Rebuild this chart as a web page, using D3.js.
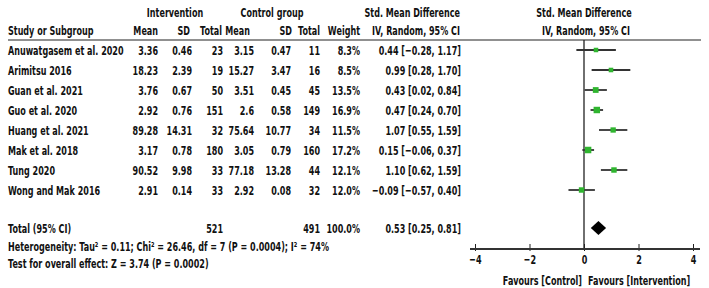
<!DOCTYPE html>
<html>
<head>
<meta charset="utf-8">
<script src="https://cdn.jsdelivr.net/npm/d3@7"></script>
<style>
  body { margin: 0; background: #fff; }
  svg text { font-family: "DejaVu Sans", sans-serif; font-size: 13px; font-weight: bold; fill: #111; }
</style>
</head>
<body>
<div id="my_dataviz"></div>
<script>
// data
const studies = ["Anuwatgasem et al. 2020", "Arimitsu 2016", "Guan et al. 2021", "Guo et al. 2020",
  "Huang et al. 2021", "Mak et al. 2018", "Tung 2020", "Wong and Mak 2016"];
const intMean = [3.36, 18.23, 3.76, 2.92, 89.28, 3.17, 90.52, 2.91];
const intSD = [0.46, 2.39, 0.67, 0.76, 14.31, 0.78, 9.98, 0.14];
const intTotal = [23, 19, 50, 151, 32, 180, 33, 33];
const ctrlMean = [3.15, 15.27, 3.51, 2.6, 75.64, 3.05, 77.18, 2.92];
const ctrlSD = [0.47, 3.47, 0.45, 0.58, 10.77, 0.79, 13.28, 0.08];
const ctrlTotal = [11, 16, 45, 149, 34, 160, 44, 32];
const weights = [8.3, 8.5, 13.5, 16.9, 11.5, 17.2, 12.1, 12.0];
const smd = [0.44, 0.99, 0.43, 0.47, 1.07, 0.15, 1.10, -0.09];
const ciLow = [-0.28, 0.28, 0.02, 0.24, 0.55, -0.06, 0.62, -0.57];
const ciHigh = [1.17, 1.70, 0.84, 0.70, 1.59, 0.37, 1.59, 0.40];
const pooled = { smd: 0.53, lo: 0.25, hi: 0.81, intN: 521, ctrlN: 491, weight: 100.0 };
const axisTicks = [-4, -2, 0, 2, 4];
const heterogeneity = "Heterogeneity: Tau² = 0.11; Chi² = 26.46, df = 7 (P = 0.0004); I² = 74%";
const overallTest = "Test for overall effect: Z = 3.74 (P = 0.0002)";

const width = 709, height = 288;
const squeeze = 0.62; // the original text is strongly condensed horizontally

const svg = d3.select("#my_dataviz")
  .append("svg")
  .attr("width", width)
  .attr("height", height);

const data = studies.map((s, i) => ({
  study: s, im: intMean[i], isd: intSD[i], it: intTotal[i],
  cm: ctrlMean[i], csd: ctrlSD[i], ct: ctrlTotal[i],
  w: weights[i], smd: smd[i], lo: ciLow[i], hi: ciHigh[i]
}));

// row positions
const y = d3.scalePoint().domain(d3.range(studies.length)).range([50, 190]);
const yTotal = 228;

// forest x scale
const x = d3.scaleLinear().domain([-4, 4]).range([475, 693]);
const size = d3.scaleSqrt().domain([0, 17.2]).range([0, 6.5]);

const f2 = (v) => (v < 0 ? "\u2212" : "") + Math.abs(v).toFixed(2);
const ciText = (m, l, h) => `${f2(m)} [${f2(l)}, ${f2(h)}]`;

// columns: right edge and accessor
const cols = [
  { x: 158, get: (d) => String(d.im) },
  { x: 192, get: (d) => d.isd.toFixed(2) },
  { x: 223, get: (d) => d.it },
  { x: 254, get: (d) => String(d.cm) },
  { x: 291, get: (d) => d.csd.toFixed(2) },
  { x: 320, get: (d) => d.ct },
  { x: 360, get: (d) => d.w.toFixed(1) + "%" },
  { x: 461, get: (d) => ciText(d.smd, d.lo, d.hi) }
];

// 1. headers
const header = [
  { t: "Intervention", x: 175, y: 12, a: "middle" },
  { t: "Control group", x: 272, y: 12, a: "middle" },
  { t: "Std. Mean Difference", x: 460, y: 12, a: "end" },
  { t: "Std. Mean Difference", x: 584, y: 12, a: "middle" },
  { t: "Study or Subgroup", x: 8, y: 30, a: "start" },
  { t: "Mean", x: 158, y: 30, a: "end" },
  { t: "SD", x: 190, y: 30, a: "end" },
  { t: "Total", x: 222, y: 30, a: "end" },
  { t: "Mean", x: 250, y: 30, a: "end" },
  { t: "SD", x: 292, y: 30, a: "end" },
  { t: "Total", x: 320, y: 30, a: "end" },
  { t: "Weight", x: 360, y: 30, a: "end" },
  { t: "IV, Random, 95% CI", x: 460, y: 30, a: "end" },
  { t: "IV, Random, 95% CI", x: 586, y: 30, a: "middle" }
];
svg.selectAll(".hdr")
  .data(header)
  .enter()
  .append("text")
  .attr("x", (d) => d.x)
  .attr("y", (d) => d.y)
  .attr("dy", "0.35em")
  .attr("text-anchor", (d) => d.a)
  .text((d) => d.t);

svg.append("line")
  .attr("x1", 8).attr("x2", 701)
  .attr("y1", 40).attr("y2", 40)
  .attr("stroke", "#222").attr("stroke-width", 1.2);

// 2. study rows
const rows = svg.selectAll(".row")
  .data(data)
  .enter()
  .append("g")
  .attr("transform", (d, i) => `translate(0, ${y(i)})`);

rows.append("text")
  .attr("x", 8)
  .attr("dy", "0.35em")
  .text((d) => d.study);

cols.forEach((c) => {
  rows.append("text")
    .attr("x", c.x)
    .attr("dy", "0.35em")
    .attr("text-anchor", "end")
    .text(c.get);
});

// 3. total row
const totalVals = [
  { x: 8, t: "Total (95% CI)", a: "start" },
  { x: 223, t: pooled.intN, a: "end" },
  { x: 320, t: pooled.ctrlN, a: "end" },
  { x: 360, t: pooled.weight.toFixed(1) + "%", a: "end" },
  { x: 461, t: ciText(pooled.smd, pooled.lo, pooled.hi), a: "end" }
];
svg.selectAll(".tot")
  .data(totalVals)
  .enter()
  .append("text")
  .attr("x", (d) => d.x)
  .attr("y", yTotal)
  .attr("dy", "0.35em")
  .attr("text-anchor", (d) => d.a)
  .text((d) => d.t);

svg.append("text").attr("x", 8).attr("y", 246).attr("dy", "0.35em").text(heterogeneity);
svg.append("text").attr("x", 8).attr("y", 263).attr("dy", "0.35em").text(overallTest);

// 4. forest panel
const axisY = 249;

svg.append("line")
  .attr("x1", x(0)).attr("x2", x(0))
  .attr("y1", 40).attr("y2", axisY)
  .attr("stroke", "#222").attr("stroke-width", 1.3);

svg.selectAll(".ci")
  .data(data)
  .enter()
  .append("line")
  .attr("x1", (d) => x(d.lo))
  .attr("x2", (d) => x(d.hi))
  .attr("y1", (d, i) => y(i))
  .attr("y2", (d, i) => y(i))
  .attr("stroke", "#333")
  .attr("stroke-width", 1.8);

svg.selectAll(".sq")
  .data(data)
  .enter()
  .append("rect")
  .attr("x", (d) => x(d.smd) - size(d.w) / 2)
  .attr("y", (d, i) => y(i) - size(d.w) / 2)
  .attr("width", (d) => size(d.w))
  .attr("height", (d) => size(d.w))
  .attr("fill", "#2fb52f");

// pooled diamond
svg.append("path")
  .attr("d", `M${x(pooled.lo)},${yTotal} L${x(pooled.smd)},${yTotal - 7} L${x(pooled.hi)},${yTotal} L${x(pooled.smd)},${yTotal + 7} Z`)
  .attr("fill", "#000");

// axis
const axisG = svg.append("g")
  .attr("transform", `translate(0, ${axisY})`)
  .call(d3.axisBottom(x).tickValues(axisTicks).tickSize(0).tickPadding(6));
axisG.select(".domain").remove();
axisG.selectAll(".tick line")
  .attr("y1", -5).attr("y2", 2)
  .attr("stroke", "#222");
axisG.selectAll(".tick text")
  .attr("fill", "#111");

svg.append("line")
  .attr("x1", x(-4) - 5).attr("x2", x(4) + 7)
  .attr("y1", axisY).attr("y2", axisY)
  .attr("stroke", "#333").attr("stroke-width", 2);

svg.append("text").attr("x", x(0) - 2).attr("y", 280).attr("dy", "0.35em")
  .attr("text-anchor", "end").text("Favours [Control]");
svg.append("text").attr("x", x(0) + 4).attr("y", 280).attr("dy", "0.35em")
  .attr("text-anchor", "start").text("Favours [Intervention]");

// condense every label horizontally around its anchor point
svg.selectAll("text").each(function () {
  const t = d3.select(this);
  const x0 = +t.attr("x") || 0;
  t.attr("transform", `translate(${x0},0) scale(${squeeze},1) translate(${-x0},0)`);
});
</script>
</body>
</html>
